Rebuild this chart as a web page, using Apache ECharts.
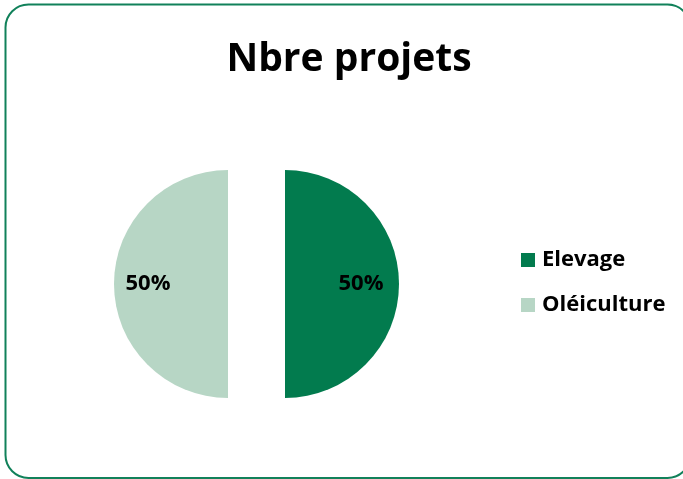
<!DOCTYPE html>
<html>
<head>
<meta charset="utf-8">
<script src="https://cdn.jsdelivr.net/npm/echarts@6/dist/echarts.min.js"></script>
<style>
  html, body { margin: 0; padding: 0; background: #ffffff; }
  #chart { width: 683px; height: 479px; }
</style>
</head>
<body>
<div id="chart"></div>
<script>
// Project count split by activity
const categories = ['Elevage', 'Oléiculture'];
const values = [1, 1];
const colors = ['#027b4e', '#b7d6c5'];
const titleText = 'Nbre projets';

// horizontal nudges so the percentages sit further out than the slice midpoint
const labelShiftX = [16, -20];

const chart = echarts.init(document.getElementById('chart'), null, { renderer: 'canvas' });

const pieData = categories.map((name, i) => ({
  name: name,
  value: values[i],
  selected: true,
  itemStyle: { color: colors[i] }
}));

chart.setOption({
  animation: false,
  backgroundColor: '#ffffff',
  graphic: [{
    type: 'rect',
    shape: { x: 5.5, y: 4.5, width: 685, height: 473.5, r: 23 },
    style: { fill: 'none', stroke: '#11815a', lineWidth: 2 },
    silent: true,
    z: -10
  }],
  title: {
    text: titleText,
    left: 344,
    textAlign: 'center',
    top: 35,
    textStyle: {
      fontFamily: 'Open Sans',
      fontWeight: 'bold',
      fontSize: 39,
      color: '#000000'
    }
  },
  legend: {
    orient: 'vertical',
    left: 516,
    top: 244,
    icon: 'rect',
    itemWidth: 14,
    itemHeight: 14,
    itemGap: 23,
    data: categories,
    textStyle: {
      fontFamily: 'Open Sans',
      fontWeight: 'bold',
      fontSize: 22,
      lineHeight: 22,
      color: '#000000',
      padding: [0, 0, 0, 2]
    }
  },
  series: [{
    type: 'pie',
    center: [256.5, 284],
    radius: 114,
    startAngle: 90,
    clockwise: true,
    selectedMode: 'multiple',
    selectedOffset: 28.5,
    emphasis: { disabled: true },
    label: {
      show: true,
      position: 'inside',
      formatter: '{d}%',
      fontFamily: 'Open Sans',
      fontWeight: 'bold',
      fontSize: 22,
      color: '#000000'
    },
    labelLayout: function (params) {
      return { dx: labelShiftX[params.dataIndex] || 0, dy: 0 };
    },
    labelLine: { show: false },
    data: pieData
  }]
});
</script>
</body>
</html>
